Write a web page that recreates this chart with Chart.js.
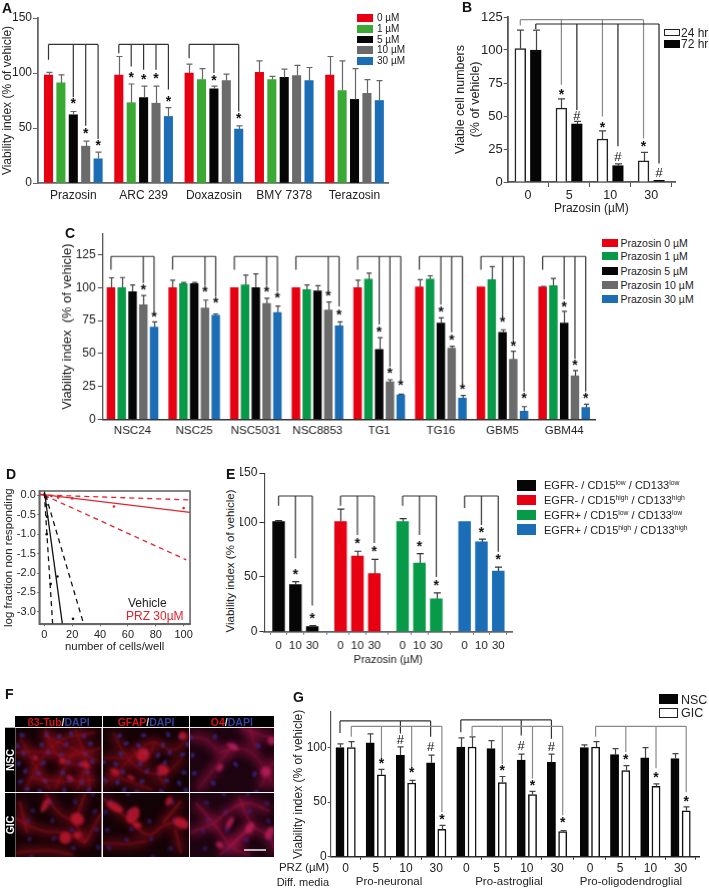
<!DOCTYPE html>
<html>
<head>
<meta charset="utf-8">
<title>Prazosin viability panels</title>
<script src="https://cdn.jsdelivr.net/npm/chart.js@4/dist/chart.umd.min.js"></script>
<style>
html,body{margin:0;padding:0;background:#fff}
#page{position:relative;width:709px;height:890px;overflow:hidden;font-family:"Liberation Sans",Arial,sans-serif;color:#222}
canvas{position:absolute}
.t{position:absolute;white-space:nowrap;line-height:1}
.t sup{font-size:.62em;vertical-align:.45em;line-height:0}
.s{position:absolute;box-sizing:border-box}
</style>
</head>
<body>
<div id="page"></div>
<script>
// ---- data ----
// A
const aDrugs = ['Prazosin','ARC 239','Doxazosin','BMY 7378','Terazosin'];
const aDoses = ['0 µM','1 µM','5 µM','10 µM','30 µM'];
const aMeans = [[98,91,62,33.5,22],[98,73,77.6,72.5,60.5],[100,94,85.5,93,49],[100.5,94,96,97.7,93],[98,84,76,81.5,75]];
const aTops = [[100.5,98.3,65,38,28],[115,90,88,88,68.5],[108,104,88,99,52],[111,97,103.5,107,105],[115,111,104,94,93]];
const aBrackets = [
  [126,[[0,0,112],[0,2,78],[0,3,52],[0,4,40]]],
  [126,[[1,0,118],[1,1,106],[1,2,103],[1,3,103],[1,4,85]]],
  [126,[[2,0,113.5],[2,2,100],[2,4,65]]]
];
const aStars = [[0,2,73.6],[0,3,47],[0,4,36],[1,1,98],[1,2,96],[1,3,97],[1,4,76],[2,2,95],[2,4,60]];

// B
const bDoses = ['0','5','10','30'];
const bTimes = ['24 hr','72 hr'];
const bMeans = [[101,100],[56,44],[32.6,12.4],[16,1.3]];
const bTops = [[115,115],[63,46],[38.7,13.7],[22.5,1.3]];
const bBrackets = [
  [123,[[0,0,118.5],[1,0,73.6],[2,0,49.6],[3,0,33]],'#8a8a8a'],
  [119.7,[[0,1,116],[1,1,54.6],[2,1,27],[3,1,14]],'#222']
];
const bStars = [[1,0,68],[1,1,50,'#'],[2,0,43],[2,1,18.5,'#'],[3,0,28],[3,1,6.5,'#']];

// C
const cLines = ['NSC24','NSC25','NSC5031','NSC8853','TG1','TG16','GBM5','GBM44'];
const cDoses = ['Prazosin 0 µM','Prazosin 1 µM','Prazosin 5 µM','Prazosin 10 µM','Prazosin 30 µM'];
const cMeans = [[100,100,97,87,70],[100,103,103,84.5,79],[100,102,100,88,81],[100,98.5,97.5,83,71],
  [100,106.5,53,28.5,18.5],[100.5,106.5,73,54,16],[100.5,106,66,45.5,6],[100.5,101.5,73,33,9]];
const cTops = [[107.5,107.7,102,94,74],[105.7,104,104,90.5,80],[100,109.5,110.5,92,86],[100,102,101.5,89,74],
  [105.7,111,62,30,19],[106,109,77,55.5,18],[100.8,116,68,51.7,9.6],[101,107,82,37,11.4]];
const cBrackets = [
  [123.7,[[0,0,113.6],[0,3,103.5],[0,4,82]]],
  [123.7,[[1,0,113.6],[1,3,101.4],[1,4,93]]],
  [123.7,[[2,0,113.6],[2,3,101.4],[2,4,97]]],
  [123.7,[[3,0,113.6],[3,3,98],[3,4,85.7]]],
  [123.7,[[4,0,113.6],[4,2,72],[4,3,40],[4,4,30]]],
  [123.7,[[5,0,113.6],[5,2,87],[5,3,66],[5,4,27]]],
  [123.7,[[6,0,113.6],[6,2,78],[6,3,60],[6,4,21]]],
  [123.7,[[7,0,113.6],[7,2,91],[7,3,46],[7,4,21]]]
];
const cStars = [[0,3,100],[0,4,79],[1,3,98],[1,4,90],[2,3,98],[2,4,94],[3,3,95],[3,4,81],
  [4,2,68],[4,3,36.5],[4,4,27],[5,2,83],[5,3,61.6],[5,4,24],[6,2,75],[6,3,57],[6,4,17],[7,2,87],[7,3,42.6],[7,4,17]];

// D
const dVehicleFit = [[0,0.11],[13,-3.32]];
const dVehicleLow = [[0,0.05],[6,-3.32]];
const dVehicleHigh = [[1,0],[28.3,-3.32]];
const dPrzFit = [[-3.6,0.03],[104.6,-0.44]];
const dPrzLow = [[-3.6,0.01],[104.6,-0.12]];
const dPrzHigh = [[0,0],[101.8,-1.66]];
const dVehiclePoints = [[1.5,-0.25],[2,-0.55],[1.7,-1],[4.6,-2.28],[9.4,-2.09],[20.6,-3.18]];
const dPrzPoints = [[0,0.02],[2,-0.05],[5,-0.02],[10,-0.06],[20,-0.08],[50,-0.29],[100,-0.33]];

// E
const eDoses = ['0','10','30'];
const eGroups = ['EGFR- / CD15<sup>low</sup> / CD133<sup>low</sup>','EGFR- / CD15<sup>high</sup> / CD133<sup>high</sup>',
  'EGFR+ / CD15<sup>low</sup> / CD133<sup>low</sup>','EGFR+ / CD15<sup>high</sup> / CD133<sup>high</sup>'];
const eMeans = [[100.6,43,4.6],[100.6,69,53],[100.6,62.8,30],[100.6,82,55.5]];
const eTops = [[101.5,45.7,5.5],[112,73.5,66],[103.4,71.3,35.4],[101,84.5,59]];
const eBrackets = [
  [124,[[0,0,115],[0,1,67],[0,2,24]]],
  [124,[[1,0,115],[1,1,88.4],[1,2,81]]],
  [124,[[2,0,115],[2,1,88.4],[2,2,50]]],
  [124,[[3,0,113],[3,1,97.5],[3,2,73]]]
];
const eStars = [[0,1,54],[0,2,14],[1,1,82],[1,2,75],[2,1,80],[2,2,44],[3,1,92],[3,2,68]];

// G
const gDoses = ['0','5','10','30','0','5','10','30','0','5','10','30'];
const gMedia = ['Pro-neuronal','Pro-astroglial','Pro-oligodendroglial'];
const gTypes = ['NSC','GIC'];
const gMeans = [[100,100],[104.3,75],[93,67.5],[86,25],[100.5,100.5],[99,68],[88.5,57],[86.5,23],[100,100.5],[93.5,79],[90.5,64.5],[90,42]];
const gTops = [[103.4,105.5],[112.5,80],[100.6,70],[93,28.7],[108.8,109.8],[106.4,73.5],[94,59.8],[94,24],[102.4,105.5],[99,83.5],[100,66.8],[94.5,45.7]];
const gBrackets = [
  [124.4,[[0,0,113.4],[2,0,113],[3,0,110]],'#333'],
  [119.5,[[0,1,110],[1,1,90],[2,1,82],[3,1,41]],'#8a8a8a'],
  [125.3,[[4,0,114],[6,0,111],[7,0,108]],'#333'],
  [119.5,[[4,1,110],[5,1,85],[6,1,71.6],[7,1,38]],'#8a8a8a'],
  [119.5,[[8,1,110],[9,1,96],[10,1,81],[11,1,59]],'#8a8a8a']
];
const gStars = [[1,1,87],[2,0,107,'#'],[2,1,78.7],[3,0,100,'#'],[3,1,36],[5,1,81],[6,0,100.6,'#'],[6,1,67],[7,0,99.7,'#'],[7,1,32.6],[9,1,91],[10,1,74.7],[11,1,52.7]];

// ---- colours ----
const RED='#e60012', GREEN='#3aaa35', GREEN2='#079a48', BLACK='#060606', GRAY='#6b6b6b', BLUE='#1b6db6';
const FONT='"Liberation Sans", Arial, sans-serif';
const page=document.getElementById('page');

function label(html,x,y,o={}){
  const d=document.createElement('div');
  d.className='t';
  d.innerHTML=html;
  d.style.left=x+'px'; d.style.top=y+'px';
  d.style.fontSize=(o.size||12)+'px';
  d.style.color=o.color||'#222';
  if(o.bold) d.style.fontWeight='bold';
  const ax=o.align==='center'?'-50%':o.align==='right'?'-100%':'0';
  d.style.transform=`translate(${ax},-50%)`+(o.rot?` rotate(${o.rot}deg)`:'');
  page.appendChild(d);
}
function swatch(x,y,w,h,bg,border){
  const d=document.createElement('div');
  d.className='s';
  d.style.cssText=`left:${x}px;top:${y}px;width:${w}px;height:${h}px;background:${bg};`+(border?`border:1.5px solid ${border};`:'');
  page.appendChild(d);
}
function addCanvas(l,t,w,h){
  const c=document.createElement('canvas');
  c.width=w;c.height=h;
  c.style.cssText=`left:${l}px;top:${t}px;width:${w}px;height:${h}px`;
  page.appendChild(c);
  return c;
}

// whiskers, brackets and stars, all in data units
const marksPlugin={
  id:'marks',
  afterDatasetsDraw(chart,args,o){
    if(!o.xOf) return;
    const ctx=chart.ctx,xs=chart.scales.x,ys=chart.scales.y;
    const px=(g,b)=>xs.getPixelForValue(o.xOf(g,b));
    ctx.save();
    ctx.lineWidth=o.errWidth||1.2;
    ctx.strokeStyle=o.errColor||'#444';
    o.tops.forEach((row,g)=>row.forEach((top,b)=>{
      const x=Math.round(px(g,b))+.5,y0=ys.getPixelForValue(o.means[g][b]),y1=ys.getPixelForValue(top);
      if(y0-y1<.5) return;
      ctx.beginPath();
      ctx.moveTo(x,y0);ctx.lineTo(x,y1);
      ctx.moveTo(x-o.cap,y1);ctx.lineTo(x+o.cap,y1);
      ctx.stroke();
    }));
    ctx.lineWidth=o.bracketWidth||1.2;
    o.brackets.forEach(([top,stems,color])=>{
      ctx.strokeStyle=color||o.bracketColor||'#333';
      const y=ys.getPixelForValue(top);
      ctx.beginPath();
      ctx.moveTo(px(stems[0][0],stems[0][1]),y);
      ctx.lineTo(px(stems[stems.length-1][0],stems[stems.length-1][1]),y);
      stems.forEach(([g,b,end])=>{
        ctx.moveTo(px(g,b),y);
        ctx.lineTo(px(g,b),ys.getPixelForValue(end));
      });
      ctx.stroke();
    });
    ctx.fillStyle='#111';
    ctx.textAlign='center';
    ctx.textBaseline='middle';
    o.stars.forEach(([g,b,val,ch])=>{
      const y=ys.getPixelForValue(val);
      if(ch){
        ctx.font='13px '+FONT;
        ctx.fillText(ch,px(g,b),y);
      }else{
        ctx.font='bold 14px '+FONT;
        ctx.fillText('*',px(g,b),y+2.5);
      }
    });
    ctx.restore();
  }
};
const boxPlugin={
  id:'box',
  afterDraw(chart,args,o){
    if(!o.color) return;
    const a=chart.chartArea,ctx=chart.ctx;
    ctx.save();ctx.strokeStyle=o.color;ctx.lineWidth=o.width;
    ctx.strokeRect(a.left,a.top,a.right-a.left,a.bottom-a.top);
    ctx.restore();
  }
};
Chart.register(marksPlugin,boxPlugin);

function axis(o){
  return {
    type:'linear',offset:false,min:o.min,max:o.max,
    grid:{display:true,drawOnChartArea:false,drawTicks:o.tick>0,tickLength:o.tick||0,tickColor:o.color,tickWidth:o.tickWidth||1},
    border:{display:true,color:o.color,width:o.width},
    ticks:{autoSkip:false,maxRotation:0,minRotation:0,padding:o.pad,color:'#222',font:{family:FONT,size:o.font},callback:(v,i)=>o.labels[i]},
    afterBuildTicks:s=>{s.ticks=o.values.map(v=>({value:v}))},
    afterFit:s=>{if(o.w!=null)s.width=o.w;if(o.h!=null)s.height=o.h},
    title:o.title?{display:true,text:o.title,color:'#222',font:{family:FONT,size:o.titleSize},padding:0}:{display:false}
  };
}

// plot = [left, top, right, bottom] of the axes
function barPanel(c){
  const [pl,pt,pr,pb]=c.plot;
  const cl=c.left, ct=pt-10, cw=pr+6-cl, ch=c.bottom-ct;
  const xmin=(pl-c.first)/c.pitch, xmax=(pr-c.first)/c.pitch;
  const nSeries=c.means[0].length;
  const datasets=[];
  for(let b=0;b<nSeries;b++){
    datasets.push({
      data:c.means.map((row,g)=>({x:c.xOf(g,b),y:row[b]})),
      backgroundColor:c.groupColors||c.colors[b],
      borderColor:c.borders?c.borders[b]:(c.groupColors||c.colors[b]),
      borderWidth:c.borders?1.5:0,
      borderSkipped:'bottom',
      barThickness:c.barW,
      grouped:false
    });
  }
  return new Chart(addCanvas(cl,ct,cw,ch),{
    type:'bar',
    data:{datasets},
    options:{
      responsive:false,animation:false,
      layout:{padding:{top:10,right:6,left:0,bottom:0}},
      plugins:{
        legend:{display:false},tooltip:{enabled:false},
        marks:{xOf:c.xOf,means:c.means,tops:c.tops,brackets:c.brackets,stars:c.stars,cap:c.cap,errColor:c.errColor,errWidth:c.errWidth,bracketColor:c.bracketColor}
      },
      scales:{
        x:axis({min:xmin,max:xmax,values:c.xValues,labels:c.xLabels,tick:c.xTick,pad:c.xPad,font:c.xFont,color:c.axisColor,width:c.xWidth||1.8,h:c.bottom-pb,title:c.xTitle,titleSize:c.xTitleSize}),
        y:axis({min:0,max:c.yMax,values:c.yValues,labels:c.yLabels,tick:c.yTick,pad:c.yPad,font:c.yFont,color:c.yColor||c.axisColor,width:c.yWidth||1.8,w:pl-cl,title:c.yTitle,titleSize:c.yTitleSize})
      }
    }
  });
}

// ---- panel A ----
const aX=(g,b)=>g*5.67+b;
barPanel({plot:[38,18,388,183],left:0,bottom:202,first:48.5,pitch:12.4,barW:8.4,cap:3,
  means:aMeans,tops:aTops,brackets:aBrackets,stars:aStars,xOf:aX,colors:[RED,GREEN,BLACK,GRAY,BLUE],
  yMax:150,yValues:[0,50,100,150],yLabels:['0','50','100','150'],yTick:5,yPad:1,yFont:12,
  xValues:aDrugs.map((d,g)=>aX(g,2)),xLabels:aDrugs,xTick:0,xPad:5,xFont:12,
  axisColor:'#666',errColor:'#666',bracketColor:'#333',
  yTitle:'Viability index (% of vehicle)',yTitleSize:12});
label('A',2,8,{size:14,bold:true,color:'#111'});
aDoses.forEach((d,i)=>{
  const y=18+i*10.75;
  swatch(357,y-3.8,16,7.6,[RED,GREEN,BLACK,GRAY,BLUE][i]);
  label(d,377,y,{size:10});
});

// ---- panel B ----
const bX=(g,b)=>g*2.65+b;
barPanel({plot:[507.7,17,675,182],left:453,bottom:216,first:520.3,pitch:15.5,barW:10.8,cap:3.5,
  means:bMeans,tops:bTops,brackets:bBrackets,stars:bStars,xOf:bX,colors:['#fff',BLACK],borders:['#222',BLACK],
  yMax:125,yValues:[0,25,50,75,100,125],yLabels:['0','25','50','75','100','125'],yTick:4,yPad:1,yFont:13,
  xValues:bDoses.map((d,g)=>bX(g,.5)),xLabels:bDoses,xTick:5,xPad:1,xFont:12.5,
  axisColor:'#555',errColor:'#444',
  yTitle:['Viable cell numbers','(% of vehicle)'],yTitleSize:12.5,xTitle:'Prazosin (µM)',xTitleSize:12});
label('B',462,7,{size:14,bold:true,color:'#111'});
swatch(664,28.7,16,7.5,'#fff','#222');
swatch(664,39.7,16,8,BLACK);
label(bTimes[0],681,32.5,{size:12});
label(bTimes[1],681,44,{size:12});

// ---- panel C ----
const cX=(g,b)=>g*5.72+b;
barPanel({plot:[102.7,234.3,594.5,419.3],left:60,bottom:438,first:110.9,pitch:10.77,barW:7.8,cap:2.6,
  means:cMeans,tops:cTops,brackets:cBrackets,stars:cStars,xOf:cX,colors:[RED,GREEN2,BLACK,GRAY,BLUE],
  yMax:140.7,yValues:[0,25,50,75,100,125],yLabels:['0','25','50','75','100','125'],yTick:5,yPad:2,yFont:12,
  xValues:cLines.map((d,g)=>cX(g,2)),xLabels:cLines,xTick:0,xPad:5,xFont:11.5,
  axisColor:'#333',yColor:'#444',xWidth:1.5,yWidth:1.2,errColor:'#444',bracketColor:'#333',
  yTitle:'Viability index  (% of vehicle)',yTitleSize:13});
label('C',65,233,{size:14,bold:true,color:'#111'});
[242.7,256.3,270.7,285,299].forEach((y,i)=>{
  swatch(602,y-4,16,8,[RED,GREEN2,BLACK,GRAY,BLUE][i]);
  label(cDoses[i],620.5,y,{size:10.5});
});

// ---- panel D ----
function lineSet(pts,color,dash){
  return {data:pts.map(p=>({x:p[0],y:p[1]})),showLine:true,borderColor:color,borderWidth:1.3,borderDash:dash||[],pointRadius:0,tension:0};
}
function pointSet(pts,color){
  return {data:pts.map(p=>({x:p[0],y:p[1]})),showLine:false,backgroundColor:color,borderColor:color,pointRadius:1.3,pointBorderWidth:0};
}
const DRED='#e2232e';
new Chart(addCanvas(2,481,193,173),{
  type:'scatter',
  data:{datasets:[
    lineSet(dVehicleFit,'#111'),lineSet(dVehicleLow,'#111',[5,4]),lineSet(dVehicleHigh,'#111',[5,4]),
    lineSet(dPrzFit,DRED),lineSet(dPrzLow,DRED,[5,4]),lineSet(dPrzHigh,DRED,[5,4]),
    pointSet(dVehiclePoints,'#111'),pointSet(dPrzPoints,DRED)
  ]},
  options:{
    responsive:false,animation:false,
    layout:{padding:{top:10,right:4.3,left:0,bottom:0}},
    plugins:{legend:{display:false},tooltip:{enabled:false},box:{color:'#666',width:1.6},marks:{}},
    scales:{
      x:axis({min:-3.6,max:104.6,values:[0,20,40,60,80,100],labels:['0','20','40','60','80','100'],tick:2,pad:2,font:11,color:'#666',width:1.6,h:654-624.3,title:'number of cells/well',titleSize:11.3}),
      y:axis({min:-3.32,max:0.11,values:[0,-.5,-1,-1.5,-2,-2.5,-3],labels:['0.0','-0.5','-1.0','-1.5','-2.0','-2.5','-3.0'],tick:2,pad:1.5,font:11,color:'#666',width:1.6,w:37.3,title:'log fraction non responding',titleSize:11.5})
    }
  }
});
label('D',6,474,{size:14,bold:true,color:'#111'});
label('Vehicle',128,603,{size:12});
label('PRZ 30µM',126,616,{size:12,color:DRED});

// ---- panel E ----
const eX=(g,b)=>g*3.68+b;
barPanel({plot:[264.3,473,511.7,631.7],left:240,bottom:667,first:278.5,pitch:16.83,barW:11.8,cap:3.5,
  means:eMeans,tops:eTops,brackets:eBrackets,stars:eStars,xOf:eX,groupColors:[BLACK,RED,GREEN2,BLUE],
  yMax:145,yValues:[0,50,100,145],yLabels:['0','50','100','150'],yTick:5,yPad:2,yFont:12,
  xValues:eMeans.flatMap((r,g)=>r.map((v,b)=>eX(g,b))),xLabels:eMeans.flatMap(()=>eDoses),xTick:3,xPad:4,xFont:11.5,
  axisColor:'#666',yColor:'#333',yWidth:1,errColor:'#333',bracketColor:'#333',
  xTitle:'Prazosin (µM)',xTitleSize:11});
label('Viability index (% of vehicle)',230.7,561,{size:11.5,align:'center',rot:-90});
label('E',226,474,{size:14,bold:true,color:'#111'});
eGroups.forEach((g,i)=>{
  const y=485.3+i*14.75;
  swatch(516.7,y-5.3,19.3,10.6,[BLACK,RED,GREEN2,BLUE][i]);
  label(g,544,y,{size:11});
});

// ---- panel F: micrographs, only a sketch of the photo ----
const fStrands=[
  [[[30,0],[35,20],[50,35],[75,40]],[[10,62],[25,30],[45,10],[80,5]],[[60,2],[70,25],[75,62]],[[0,25],[25,22],[55,30],[86,20]],[[40,62],[50,35],[62,22]],[[5,10],[20,40],[35,62]],[[70,40],[62,62]],[[15,50],[45,55],[80,52]],[[28,8],[52,18],[84,34]]],
  [[[0,58],[20,40],[38,18],[52,14]],[[30,20],[40,44],[52,14]],[[52,14],[70,28],[86,8]],[[10,5],[22,30],[40,44]],[[40,44],[60,50],[80,30]],[[62,60],[55,45]],[[0,30],[22,30]],[[5,45],[28,55],[50,62]]],
  [[[30,25],[42,20],[62,22],[78,45],[84,60]],[[8,62],[25,40],[42,20]],[[60,0],[66,22]],[[0,10],[15,8],[30,25]],[[50,0],[86,12]],[[70,60],[78,45],[86,30]]],
  [[[0,25],[25,40],[50,38],[70,50]],[[30,0],[40,20],[60,28],[70,50]],[[70,50],[86,20]],[[0,60],[30,56],[58,62]],[[12,40],[4,8]],[[60,28],[70,0]]],
  [[[0,5],[15,18],[30,30]],[[30,30],[45,48],[60,30],[86,30]],[[60,30],[78,8]],[[0,50],[20,52],[45,48]],[[78,60],[72,35]]],
  [[[6,10],[25,30],[40,55],[60,62]],[[25,30],[50,5],[80,18]],[[50,5],[60,35],[80,40],[86,60]],[[0,40],[25,30]],[[60,35],[40,55]],[[30,62],[60,35]]]
];
const fBodies=[
  [[70,37,5,3],[47,33,3,3],[20,30,3,2],[55,50,4,2]],
  [[40,27,6,7],[60,42,6,5],[12,44,5,3],[80,8,4,4],[28,50,4,2]],
  [[43,19,6,3],[76,44,5,5],[82,13,4,4],[30,40,3,4]],
  [[62,26,7,6],[30,12,3,8],[50,45,6,6],[62,42,4,3]],
  [[12,14,9,4],[30,22,6,9],[78,30,8,5],[34,32,5,3],[66,8,3,5]],
  [[40,30,3,7],[60,35,4,6],[80,40,4,7],[30,52,4,3]]
];
const fCols=[[15.3,86.4],[103,86],[189.7,84.3]];
const fRows=[[727.7,64.3],[793,64]];
function curve(ctx,s){
  ctx.beginPath();
  ctx.moveTo(s[0][0],s[0][1]);
  for(let i=1;i<s.length-1;i++){
    ctx.quadraticCurveTo(s[i][0],s[i][1],(s[i][0]+s[i+1][0])/2,(s[i][1]+s[i+1][1])/2);
  }
  const e=s[s.length-1];
  ctx.lineTo(e[0],e[1]);
  ctx.stroke();
}
function drawPhotos(){
  const c=addCanvas(0,710,290,155),ctx=c.getContext('2d');
  ctx.fillStyle='#000';ctx.fillRect(5,727.7-710,10.3,64.3);ctx.fillRect(5,793-710,10.3,64);
  fRows.forEach((r,ri)=>fCols.forEach((col,ci)=>{
    const n=ri*3+ci;
    ctx.save();
    ctx.translate(col[0],r[0]-710);
    ctx.beginPath();ctx.rect(0,0,col[1],r[1]);ctx.clip();
    ctx.fillStyle=ci===2?'#1d0410':'#140306';ctx.fillRect(0,0,col[1],r[1]);
    // red haze under the cells
    ctx.filter='blur(5px)';
    ctx.strokeStyle=ci===2?'rgba(165,20,75,.6)':'rgba(140,15,30,.6)';
    ctx.lineWidth=8;
    fStrands[n].forEach(s=>curve(ctx,s));
    ctx.filter='blur(1.2px)';
    // nuclei spread evenly over the field
    ctx.fillStyle=ri===0?'rgba(60,45,150,.75)':'rgba(60,35,135,.6)';
    const count=ri===0?(ci===2?10:30):14;
    for(let i=1;i<=count;i++){
      const x=((i*0.7548777+n*.13)%1)*col[1], y=((i*0.5698403+n*.29)%1)*r[1];
      ctx.beginPath();ctx.ellipse(x,y,2.7,2,i,0,7);ctx.fill();
    }
    ctx.filter='blur(.8px)';
    ctx.strokeStyle=ci===2?'rgba(175,25,65,.6)':'rgba(185,20,30,.65)';
    ctx.lineWidth=ri===0?.9:1.2;
    fStrands[n].forEach(s=>curve(ctx,s));
    ctx.filter='blur(1.5px)';
    ctx.fillStyle=ci===2?'rgba(190,30,90,.8)':'rgba(200,25,50,.8)';
    fBodies[n].forEach(b=>{ctx.beginPath();ctx.ellipse(b[0],b[1],b[2],b[3],.5,0,7);ctx.fill();});
    ctx.restore();
  }));
  ctx.filter='none';
  ctx.fillStyle='#fff';ctx.fillRect(244,849.3-710,22,1.4);
}
drawPhotos();
[[15.3,86.4,'ß3-Tub'],[103,86,'GFAP'],[189.7,84.3,'O4']].forEach(h=>{
  swatch(h[0],716,h[1],10.7,'#000');
  label(`<span style="color:#d8141e">${h[2]}</span><span style="color:#ddd">/</span><span style="color:#3b3f9e">DAPI</span>`,h[0]+h[1]/2,721.5,{size:10.5,bold:true,align:'center'});
});
label('NSC',10,760,{size:10.5,bold:true,color:'#fff',align:'center',rot:-90});
label('GIC',10,825,{size:10.5,bold:true,color:'#fff',align:'center',rot:-90});
label('F',5,694,{size:14,bold:true,color:'#111'});

// ---- panel G ----
const gX=(g,b)=>g*2.68+b+(g>=8?.24:0);
barPanel({plot:[330.7,711.7,699,856.7],left:291,bottom:875,first:340,pitch:11.27,barW:8.2,cap:3,
  means:gMeans,tops:gTops,brackets:gBrackets,stars:gStars,xOf:gX,colors:[BLACK,'#fff'],borders:[BLACK,'#111'],
  yMax:132.6,yValues:[0,50,100],yLabels:['0','50','100'],yTick:3,yPad:1,yFont:12,
  xValues:gDoses.map((d,g)=>gX(g,.5)),xLabels:gDoses,xTick:3,xPad:2,xFont:12,
  axisColor:'#222',yColor:'#555',xWidth:1.5,yWidth:1.2,errColor:'#444',
  yTitle:'Viability index (% of vehicle)',yTitleSize:12});
label('G',293,697,{size:14,bold:true,color:'#111'});
swatch(659,694,18.7,10,BLACK);
swatch(659,708,18.7,10,'#fff','#222');
label(gTypes[0],681,699.5,{size:12.5});
label(gTypes[1],681,713,{size:12.5});
label('PRZ (µM)',329,868,{size:11.5,align:'right'});
label('Diff. media',329,881.7,{size:11,align:'right'});
gMedia.forEach((m,i)=>label(m,[389,509,631][i],881.7,{size:11.5,align:'center'}));
</script>
</body>
</html>
